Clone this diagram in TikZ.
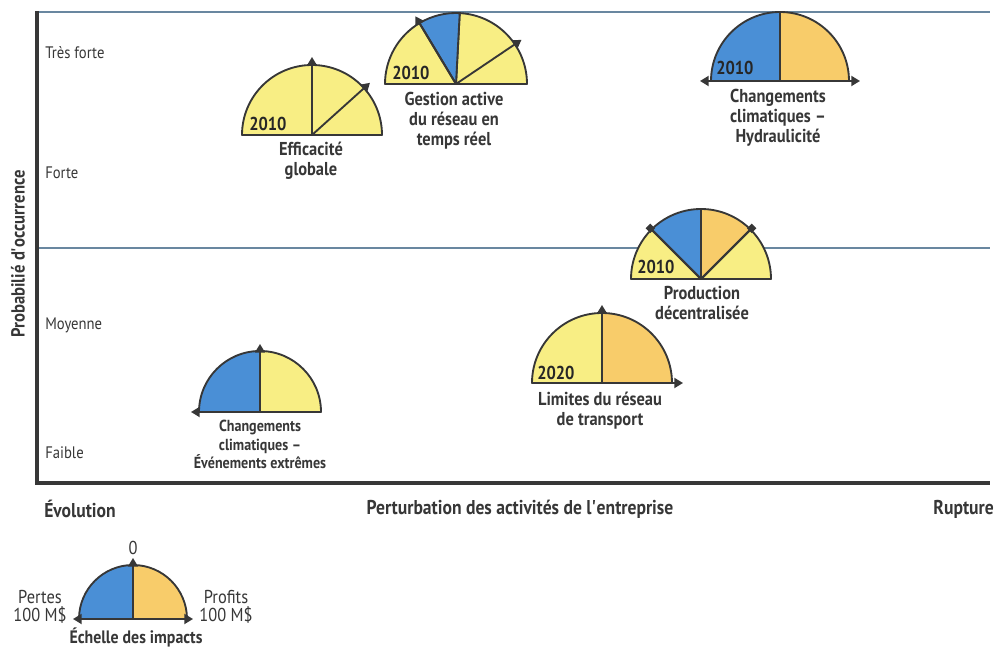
\documentclass[tikz,border=0pt]{standalone}
\usepackage{fontspec}
\setmainfont{PT Sans}[FakeStretch=0.88]
\usetikzlibrary{arrows.meta}

\definecolor{yel}{RGB}{248,238,132}
\definecolor{ora}{RGB}{248,204,106}
\definecolor{blu}{RGB}{74,143,214}
\definecolor{ink}{RGB}{55,55,55}
\definecolor{rule}{RGB}{105,135,160}

% one filled wedge of a gauge: centre, start angle, end angle, radius, colour
\newcommand{\gslice}[5]{%
  \filldraw[gauge,fill=#5] (#1) -- ++(#2:#4) arc[start angle=#2,end angle=#3,radius=#4] -- cycle;}

\begin{document}
\begin{tikzpicture}[x=0.75pt,y=0.75pt,
  gauge/.style={draw=ink,line width=1.4pt,line join=round},
  tip/.style={draw=ink,line width=1.4pt,-{Triangle[length=6.5pt,width=7.5pt]}},
  sqtip/.style={draw=ink,line width=1.4pt,-{Square[length=5pt,width=5pt]}},
  lbl/.style={font=\fontsize{14}{14.8}\selectfont\bfseries,text=ink,align=center,inner sep=0pt,anchor=north},
  small/.style={font=\fontsize{12}{13.9}\selectfont\bfseries,text=ink,align=center,inner sep=0pt},
  note/.style={font=\fontsize{14}{13.6}\selectfont,text=ink,align=center,inner sep=0pt},
  year/.style={font=\fontsize{14}{15}\selectfont\bfseries,text=black!85,inner sep=0pt,anchor=west},
  level/.style={font=\fontsize{12.5}{14}\selectfont,text=ink,inner sep=0pt,anchor=west},
  title/.style={font=\fontsize{15}{16}\selectfont\bfseries,text=ink,inner sep=0pt},
  axis/.style={draw=ink,line width=3pt}]
  \useasboundingbox (0,0) rectangle (1004,650);

  % frame
  \draw[rule,line width=1pt] (37,638) -- (990,638);
  \draw[rule,line width=1pt] (37,402) -- (990,402);
  \draw[axis] (37,639) -- (37,167) -- (990,167);

  % levels
  \node[level] (tf) at (45,597) {Très forte};
  \node[level] (fo) at (45,477) {Forte};
  \node[level] (mo) at (45,325) {Moyenne};
  \node[level] (fa) at (45,197) {Faible};
  \node[title,font=\fontsize{14.2}{16}\selectfont\bfseries,rotate=90] (yt) at (18,396) {Probabilié d\textquotesingle occurrence};
  \node[title,anchor=west] (ev) at (44,141) {Évolution};
  \node[title] (xt) at (520,141) {Perturbation des activités de l\textquotesingle entreprise};
  \node[title,anchor=east] (ru) at (994,141) {Rupture};

  % efficacite globale
  \coordinate (eff) at (312,515);
  \gslice{eff}{0}{180}{70}{yel}
  \draw[tip] (eff) -- ++(90:78);
  \draw[tip] (eff) -- ++(42:78);
  \node[year] (effy) at (249,526) {2010};
  \node[lbl] (effl) at (311,508) {Efficacité\\globale};

  % gestion active
  \coordinate (gest) at (456,566);
  \gslice{gest}{0}{87}{71}{yel}
  \gslice{gest}{87}{121}{71}{blu}
  \gslice{gest}{121}{180}{71}{yel}
  \draw[tip] (gest) -- ++(121:79);
  \draw[tip] (gest) -- ++(34:79);
  \node[year] (gesty) at (392,577) {2010};
  \node[lbl] (gestl) at (454,558) {Gestion active\\du réseau en\\temps réel};

  % hydraulicite
  \coordinate (hyd) at (780,569);
  \gslice{hyd}{0}{90}{69}{ora}
  \gslice{hyd}{90}{180}{69}{blu}
  \draw[tip] (hyd) -- ++(180:80);
  \draw[tip] (hyd) -- ++(0:80);
  \node[year] (hydy) at (716,582) {2010};
  \node[lbl] (hydl) at (778,561) {Changements\\climatiques --\\Hydraulicité};

  % production decentralisee
  \coordinate (prod) at (701,371);
  \gslice{prod}{0}{45}{70}{yel}
  \gslice{prod}{45}{90}{70}{ora}
  \gslice{prod}{90}{135}{70}{blu}
  \gslice{prod}{135}{180}{70}{yel}
  \draw[sqtip] (prod) -- ++(45:75);
  \draw[sqtip] (prod) -- ++(135:75);
  \node[year] (prody) at (637,383) {2010};
  \node[lbl] (prodl) at (702,364) {Production\\décentralisée};

  % limites du reseau
  \coordinate (lim) at (602,267);
  \gslice{lim}{0}{90}{70}{ora}
  \gslice{lim}{90}{180}{70}{yel}
  \draw[tip] (lim) -- ++(90:78);
  \draw[tip] (lim) -- ++(0:81);
  \node[year] (limy) at (537,277) {2020};
  \node[lbl] (liml) at (600,258) {Limites du réseau\\de transport};

  % evenements extremes
  \coordinate (ext) at (260,238);
  \gslice{ext}{0}{90}{61}{yel}
  \gslice{ext}{90}{180}{61}{blu}
  \draw[tip] (ext) -- ++(90:68);
  \draw[tip] (ext) -- ++(180:69);
  \node[small,anchor=north] (extl) at (260,230) {Changements\\climatiques --\\Événements extrêmes};

  % echelle des impacts
  \coordinate (leg) at (133,31);
  \gslice{leg}{0}{90}{54}{ora}
  \gslice{leg}{90}{180}{54}{blu}
  \draw[tip] (leg) -- ++(90:61);
  \draw[tip] (leg) -- ++(180:60);
  \draw[tip] (leg) -- ++(0:60);
  \node[note] (zero) at (133,102) {0};
  \node[note] (loss) at (40,43) {Pertes\\100 M\$};
  \node[note] (gain) at (226,43) {Profits\\100 M\$};
  \node[lbl,anchor=center,font=\fontsize{13.5}{14.8}\selectfont\bfseries] (scale) at (136,13) {Échelle des impacts};
\end{tikzpicture}
\end{document}
